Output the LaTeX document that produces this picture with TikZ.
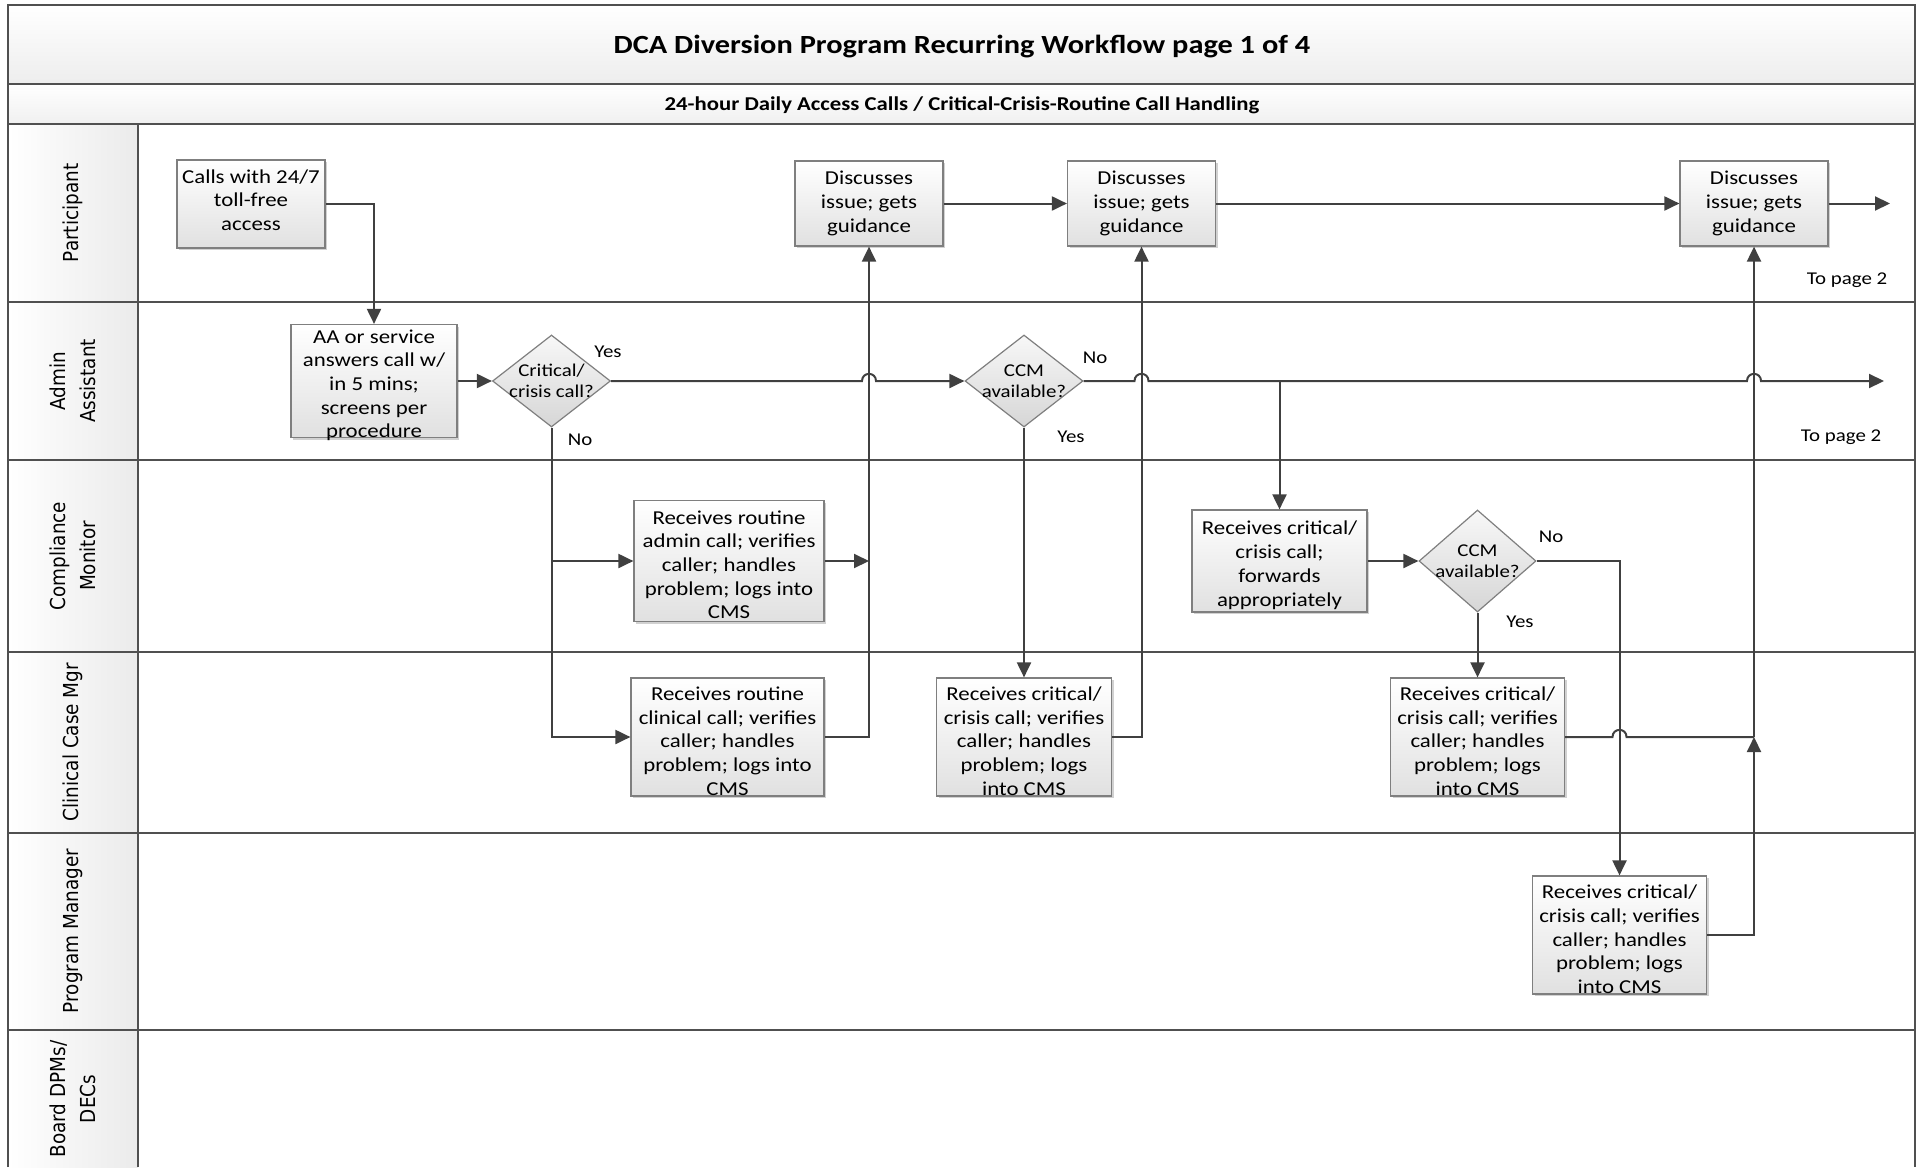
\documentclass[tikz,border=0pt]{standalone}
\usepackage{fontspec}
\setmainfont{Carlito}[FakeStretch=1.16]
\newfontfamily\lanefont{DejaVu Sans}
\usetikzlibrary{arrows.meta,shapes.geometric,shadows,calc}
\definecolor{frameC}{HTML}{505050}
\definecolor{lineC}{HTML}{404040}
\definecolor{boxC}{HTML}{7F7F7F}
\begin{document}
\begin{tikzpicture}[x=0.5pt,y=-0.5pt,
  frame/.style={draw=frameC, line width=1.2pt},
  conn/.style={draw=lineC, line width=1pt},
  arr/.style={-{Triangle[length=7.5pt,width=7pt]}},
  proc/.style={rectangle, draw=boxC, line width=0.6pt, top color=white, bottom color=black!12,
    align=center, inner sep=0pt, font=\fontsize{9.85}{11.85}\selectfont,
    drop shadow={shadow xshift=1.2pt, shadow yshift=-1.2pt, fill=black!18, opacity=1}},
  dec/.style={diamond, draw=boxC, line width=0.6pt, top color=black!3, bottom color=black!16, inner sep=0pt},
  dectext/.style={font=\fontsize{9}{10.5}\selectfont, align=center, inner sep=0pt},
  lbl/.style={font=\fontsize{9}{10.5}\selectfont, inner sep=0pt},
  lane/.style={font=\lanefont\fontsize{9.2}{13.5}\selectfont, align=center, xscale=1.12, rotate=90}
]
\useasboundingbox (0,0) rectangle (1921,1167);

% bands
\path[top color=white, bottom color=black!7] (8,5) rectangle (1915,84);
\path[top color=white, bottom color=black!6] (8,84) rectangle (1915,124);
\path[left color=white, right color=black!8] (8,124) rectangle (138,1167);

% frame and lanes
\draw[frame] (8,1167) -- (8,5) -- (1915,5) -- (1915,1167);
\foreach \yy in {84,124,302,460,652,833,1030} { \draw[frame] (8,\yy) -- (1915,\yy); }
\draw[frame] (138,124) -- (138,1167);

% titles
\node[font=\bfseries\fontsize{13.1}{15}\selectfont] (title) at (962,46.5) {DCA Diversion Program Recurring Workflow page 1 of 4};
\node[font=\bfseries\fontsize{9.8}{11}\selectfont] (subtitle) at (962,105.5) {24-hour Daily Access Calls / Critical-Crisis-Routine Call Handling};

% lane labels
\node[lane] (lp) at (73,213) {Participant};
\node[lane] (la) at (73,381) {Admin\\Assistant};
\node[lane] (lc) at (73,556) {Compliance\\Monitor};
\node[lane] (lk) at (73,742) {Clinical Case Mgr};
\node[lane] (lm) at (73,931) {Program Manager};
\node[lane] (lb) at (73,1099) {Board DPMs/\\DECs};

% process boxes
\node[proc, minimum width=74pt, minimum height=44pt] (calls) at (251,204) {Calls with 24/7\\toll-free\\access\\[-8pt]};
\node[proc, minimum width=83pt, minimum height=56.5pt] (aa) at (374,381) {AA or service\\answers call w/\\in 5 mins;\\screens per\\procedure\\[-14.5pt]};
\node[proc, minimum width=74pt, minimum height=42.5pt] (disc1) at (869,203.5) {Discusses\\issue; gets\\guidance};
\node[proc, minimum width=74pt, minimum height=42.5pt] (disc2) at (1141.5,203.5) {Discusses\\issue; gets\\guidance};
\node[proc, minimum width=74pt, minimum height=42.5pt] (disc3) at (1754,203.5) {Discusses\\issue; gets\\guidance};
\node[proc, minimum width=95pt, minimum height=60.5pt] (radmin) at (729,561) {Receives routine\\admin call; verifies\\caller; handles\\problem; logs into\\CMS\\[-15.5pt]};
\node[proc, minimum width=96.5pt, minimum height=59pt] (rclin) at (727.5,737) {Receives routine\\clinical call; verifies\\caller; handles\\problem; logs into\\CMS\\[-16pt]};
\node[proc, minimum width=87.5pt, minimum height=59pt] (crit1) at (1024,737) {Receives critical/\\crisis call; verifies\\caller; handles\\problem; logs\\into CMS\\[-16pt]};
\node[proc, minimum width=87.5pt, minimum height=51pt] (fwd) at (1279.5,561) {Receives critical/\\crisis call;\\forwards\\appropriately\\[-14.5pt]};
\node[proc, minimum width=87pt, minimum height=59pt] (crit2) at (1477.5,737) {Receives critical/\\crisis call; verifies\\caller; handles\\problem; logs\\into CMS\\[-16pt]};
\node[proc, minimum width=87pt, minimum height=59pt] (pm) at (1619.5,935) {Receives critical/\\crisis call; verifies\\caller; handles\\problem; logs\\into CMS\\[-16pt]};

% decisions
\node[dec, minimum width=59pt, minimum height=46pt] (d1) at (551.5,381) {};
\node[dectext] (d1t) at (d1.center) {Critical/\\crisis call?};
\node[dec, minimum width=59pt, minimum height=46pt] (ccm1) at (1024,381) {};
\node[dectext] (ccm1t) at (ccm1.center) {CCM\\available?};
\node[dec, minimum width=58.5pt, minimum height=51pt] (ccm2) at (1477.5,561) {};
\node[dectext] (ccm2t) at (ccm2.center) {CCM\\available?};

% free ends / junctions
\coordinate (pout) at (1890,203.5);
\coordinate (aout) at (1884,381);
\coordinate (jn) at (1754,737);

% connectors
\draw[conn,arr] (calls.east) -| (aa.north);
\draw[conn,arr] (aa.east) -- (d1.west);
\draw[conn,arr] (d1.east) -- (862,381) .. controls (862,371.5) and (876,371.5) .. (876,381) -- (ccm1.west);
\draw[conn,arr] (d1.south) |- (rclin.west);
\draw[conn,arr] (d1.south |- radmin.west) -- (radmin.west);
\draw[conn,arr] (radmin.east) -- (radmin.east -| disc1.south);
\draw[conn,arr] (rclin.east) -| (disc1.south);
\draw[conn,arr] (disc1.east) -- (disc2.west);
\draw[conn,arr] (disc2.east) -- (disc3.west);
\draw[conn,arr] (disc3.east) -- (pout);
\draw[conn,arr] (ccm1.south) -- (crit1.north);
\draw[conn,arr] (ccm1.east) -- (1134.5,381) .. controls (1134.5,371.5) and (1148.5,371.5) .. (1148.5,381)
   -- (1747,381) .. controls (1747,371.5) and (1761,371.5) .. (1761,381) -- (aout);
\draw[conn,arr] (fwd.north |- ccm1.east) -- (fwd.north);
\draw[conn,arr] (crit1.east) -| (disc2.south);
\draw[conn,arr] (fwd.east) -- (ccm2.west);
\draw[conn,arr] (ccm2.east) -| (pm.north);
\draw[conn,arr] (ccm2.south) -- (crit2.north);
\draw[conn] (crit2.east) -- (1612.5,737) .. controls (1612.5,727.5) and (1626.5,727.5) .. (1626.5,737) -- (jn);
\draw[conn,arr] (pm.east) -| (jn);
\draw[conn,arr] (jn) -- (disc3.south);

% branch labels
\node[lbl] (y1) at (608,352) {Yes};
\node[lbl] (n1) at (580,440) {No};
\node[lbl] (n2) at (1095,358) {No};
\node[lbl] (y2) at (1071,437) {Yes};
\node[lbl] (n3) at (1551,537) {No};
\node[lbl] (y3) at (1520,622) {Yes};
\node[lbl] (tp1) at (1847,280) {To page 2};
\node[lbl] (tp2) at (1841,437) {To page 2};
\end{tikzpicture}
\end{document}
